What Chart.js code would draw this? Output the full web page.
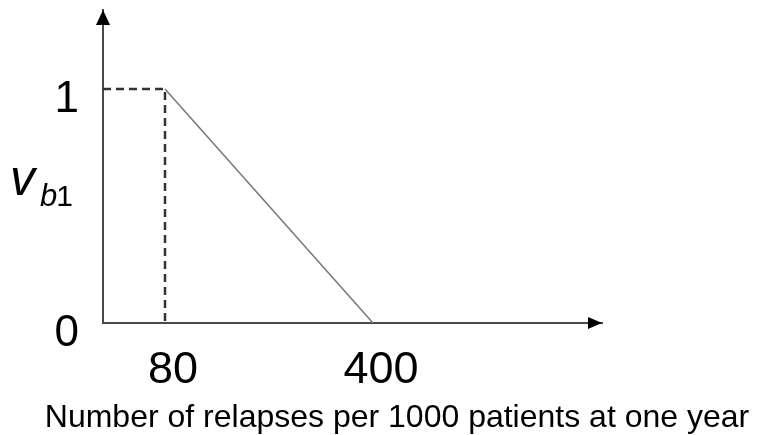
<!DOCTYPE html>
<html lang="en">

<head>
    <meta charset="utf-8">
    <title>Relapses value function</title>
    <script src="https://cdn.jsdelivr.net/npm/chart.js"></script>
    <style>
        body {
            margin: 0;
            background: #ffffff;
        }

        #wrap {
            width: 774px;
            height: 435px;
        }
    </style>
</head>

<body>
    <div id="wrap"><canvas id="myChart"></canvas></div>

    <script>
        // values
        const xTicks = [80, 400];
        const yTicks = [0, 1];
        const slopeX = [80, 400];       // solid line
        const slopeY = [1, 0];
        const guideX = [-15.4, 80, 80]; // dashed guide from the axis
        const guideY = [1, 1, 0];
        const xMin = -15.4, xMax = 752.3;
        const yMin = 0, yMax = 1.3376;
        const xTitle = 'Number of relapses per 1000 patients at one year';

        const FONT = "'Liberation Sans', Arial, sans-serif";

        const toPts = (xs, ys) => xs.map((x, i) => ({ x: x, y: ys[i] }));

        // arrow heads, y label with subscript, x title
        const extras = {
            id: 'extras',
            afterDraw(chart) {
                const c = chart.ctx;
                const a = chart.chartArea;
                c.save();
                c.fillStyle = '#000';
                // y arrow
                c.beginPath();
                c.moveTo(a.left, a.top);
                c.lineTo(a.left - 7, a.top + 15);
                c.lineTo(a.left + 7, a.top + 15);
                c.closePath();
                c.fill();
                // x arrow
                c.beginPath();
                c.moveTo(a.right, a.bottom);
                c.lineTo(a.right - 14, a.bottom - 6);
                c.lineTo(a.right - 14, a.bottom + 6);
                c.closePath();
                c.fill();

                // v_b1
                c.textBaseline = 'alphabetic';
                c.textAlign = 'left';
                c.font = 'italic 50px ' + FONT;
                c.fillText('v', 10, 195);
                c.font = 'italic 31px ' + FONT;
                c.fillText('b', 40, 206);
                const bw = c.measureText('b').width;
                c.font = '30px ' + FONT;
                c.fillText('1', 40 + bw - 1, 206);

                // x title
                c.font = '32px ' + FONT;
                c.textAlign = 'center';
                c.fillText(xTitle, 397, 427);
                c.restore();
            }
        };

        const ctx = document.getElementById('myChart').getContext('2d');

        const myChart = new Chart(ctx, {
            type: 'scatter',
            data: {
                datasets: [
                    {
                        data: toPts(guideX, guideY),
                        showLine: true,
                        borderColor: '#333',
                        borderWidth: 2.5,
                        borderDash: [8, 5],
                        pointRadius: 0,
                        fill: false
                    },
                    {
                        data: toPts(slopeX, slopeY),
                        showLine: true,
                        borderColor: '#777',
                        borderWidth: 1.5,
                        pointRadius: 0,
                        fill: false
                    }
                ]
            },
            options: {
                responsive: true,
                maintainAspectRatio: false,
                animation: false,
                layout: {
                    padding: { left: 43, top: 10, right: 172, bottom: 0 }
                },
                scales: {
                    x: {
                        type: 'linear',
                        min: xMin,
                        max: xMax,
                        afterBuildTicks: s => { s.ticks = xTicks.map(v => ({ value: v })); },
                        afterFit: s => { s.height = 112; s.paddingLeft = 0; s.paddingRight = 0; },
                        grid: { display: false, drawTicks: false },
                        border: { display: true, color: '#4a4a4a', width: 2 },
                        ticks: {
                            color: '#000',
                            padding: 21,
                            labelOffset: 8,
                            maxRotation: 0,
                            autoSkip: false,
                            font: { family: FONT, size: 45 }
                        }
                    },
                    y: {
                        type: 'linear',
                        min: yMin,
                        max: yMax,
                        afterBuildTicks: s => { s.ticks = yTicks.map(v => ({ value: v })); },
                        afterFit: s => { s.width = 60; s.paddingTop = 0; s.paddingBottom = 0; },
                        grid: { display: false, drawTicks: false },
                        border: { display: true, color: '#4a4a4a', width: 2 },
                        ticks: {
                            color: '#000',
                            padding: 24,
                            labelOffset: 11,
                            font: { family: FONT, size: 44 }
                        }
                    }
                },
                plugins: {
                    legend: { display: false },
                    tooltip: { enabled: false }
                }
            },
            plugins: [extras]
        });
    </script>
</body>

</html>
